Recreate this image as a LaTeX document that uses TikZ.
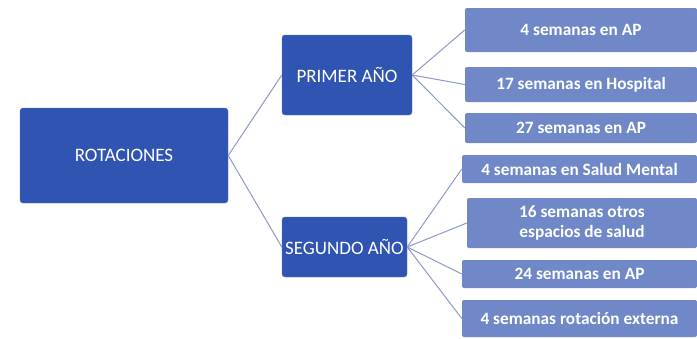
\documentclass[tikz,border=0pt]{standalone}
\usepackage{fontspec}
\setmainfont{Carlito}
\usepackage{tikz}
\usepackage{xcolor}

\definecolor{darkbox}{RGB}{47,84,178}
\definecolor{lightbox}{RGB}{112,136,200}
\definecolor{linkcol}{RGB}{140,154,200}

\begin{document}
\begin{tikzpicture}[
        x=1pt, y=-1pt,
        mainbox/.style={rectangle, rounded corners=3pt, fill=darkbox, draw=darkbox!80!white,
            text=white, font=\fontsize{19}{22}\selectfont, inner sep=0pt},
        subbox/.style={rectangle, rounded corners=2pt, fill=lightbox, text=white,
            font=\bfseries\fontsize{17.3}{20}\selectfont, align=center, inner sep=0pt},
        link/.style={linkcol, line width=1pt}
    ]

        \useasboundingbox (0,0) rectangle (697,338);

        \node[mainbox, minimum width=208pt, minimum height=95pt] (rot) at (124,155.5) {ROTACIONES};
        \node[mainbox, minimum width=130pt, minimum height=80pt] (primer) at (347,75) {PRIMER AÑO};
        \node[mainbox, minimum width=125pt, minimum height=60pt] (segundo) at (344.5,247) {SEGUNDO AÑO};

        \node[subbox, minimum width=232pt, minimum height=44pt] (s1) at (581,30) {4 semanas en AP};
        \node[subbox, minimum width=232pt, minimum height=35pt] (s2) at (581,84.5) {17 semanas en Hospital};
        \node[subbox, minimum width=232pt, minimum height=30pt] (s3) at (581,128) {27 semanas en AP};

        \node[subbox, minimum width=235pt, minimum height=28pt] (s4) at (579.5,169) {4 semanas en Salud Mental};
        \node[subbox, minimum width=230pt, minimum height=50pt] (s5) at (582,223) {16 semanas otros\\espacios de salud};
        \node[subbox, minimum width=235pt, minimum height=28pt] (s6) at (579.5,274) {24 semanas en AP};
        \node[subbox, minimum width=235pt, minimum height=37pt] (s7) at (579.5,318.5) {4 semanas rotación externa};

        \draw[link] (rot.east) -- (primer.west);
        \draw[link] (rot.east) -- (segundo.west);

        \foreach \s in {s1,s2,s3}
            \draw[link] (primer.east) -- (\s.west);
        \foreach \s in {s4,s5,s6,s7}
            \draw[link] (segundo.east) -- (\s.west);
    \end{tikzpicture}
\end{document}
